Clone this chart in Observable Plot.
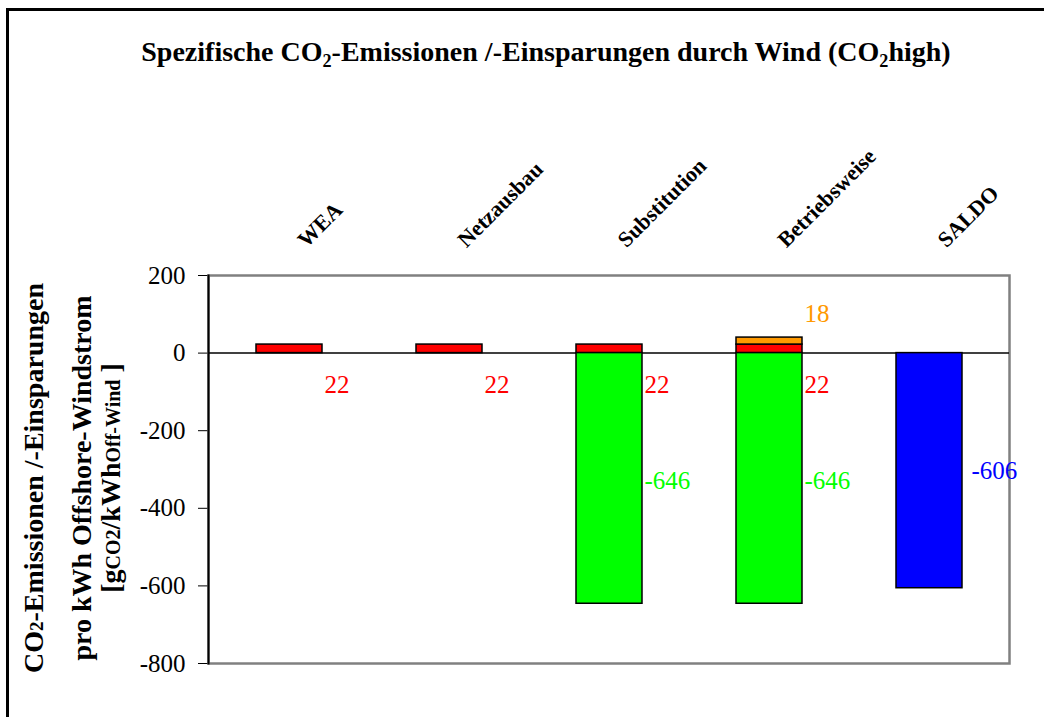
<!DOCTYPE html>
<html><head><meta charset="utf-8">
<script src="https://cdn.jsdelivr.net/npm/d3@7"></script>
<script src="https://cdn.jsdelivr.net/npm/@observablehq/plot@0.6"></script>
<style>
body{margin:0;background:#fff;overflow:hidden;}
#wrap{position:relative;width:1044px;height:717px;overflow:hidden;font-family:"Liberation Serif","Times New Roman",serif;background:#fff;}
#border{position:absolute;left:6px;top:8px;width:2000px;height:2000px;border-left:3px solid #000;border-top:3px solid #000;}
#title{position:absolute;top:36px;left:24px;width:1044px;text-align:center;font-size:28px;font-weight:bold;color:#000;white-space:nowrap;}
#title sub{font-size:65%;vertical-align:-0.35em;line-height:0;}
#chart{position:absolute;top:100px;left:0;}
</style></head>
<body>
<div id="wrap">
<div id="border"></div>
<div id="title">Spezifische CO<sub>2</sub>-Emissionen /-Einsparungen durch Wind (CO<sub>2</sub>high)</div>
<div id="chart"></div>
</div>
<script>
const categories = ["WEA", "Netzausbau", "Substitution", "Betriebsweise", "SALDO"];
const herstellung = [22, 22, 22, 22, null];
const betrieb = [null, null, null, 18, null];
const substitution = [null, null, -646, -646, null];
const saldo = [null, null, null, null, -606];
const yTicks = [200, 0, -200, -400, -600, -800];
const seriesNames = ["Herstellung", "Betrieb", "Substitution", "Saldo"];
const seriesColors = ["#ff0000", "#ff9900", "#00ff00", "#0000ff"];

const seriesValues = [herstellung, betrieb, substitution, saldo];
const rows = [];
seriesValues.forEach((vals, si) => vals.forEach((v, i) => {
  if (v != null) rows.push({cat: categories[i], series: seriesNames[si], value: v});
}));
const bySeries = name => rows.filter(r => r.series === name);
const fmt = d => d < 0 ? "-" + Math.abs(d) : String(d);
const FF = "'Liberation Serif', 'Times New Roman', serif";

const plot = Plot.plot({
  width: 1044, height: 617,
  marginTop: 175, marginBottom: 54, marginLeft: 208, marginRight: 35,
  style: {fontFamily: FF, fontSize: "25px", color: "#000", background: "transparent"},
  x: {domain: categories, paddingInner: 0.59, paddingOuter: 0.295, axis: null},
  y: {domain: [-800, 200], ticks: yTicks, tickSize: 10, tickPadding: 13, tickFormat: fmt, label: null},
  color: {domain: seriesNames, range: seriesColors},
  marks: [
    Plot.frame({stroke: "#808080", strokeWidth: 2.5}),
    Plot.frame({anchor: "left", stroke: "#000", strokeWidth: 2}),
    Plot.ruleY([0], {stroke: "#000", strokeWidth: 1.5}),
    Plot.barY(rows, {x: "cat", y: "value", fill: "series", stroke: "#000", strokeWidth: 1.5}),
    Plot.text(bySeries("Herstellung"), {x: "cat", y: () => 0, text: d => fmt(d.value), fill: "#ff0000", textAnchor: "start", dx: 35, dy: 32, fontSize: 25, fontFamily: FF}),
    Plot.text(bySeries("Betrieb"), {x: "cat", y: d => d.value + 22, text: d => fmt(d.value), fill: "#ff9900", textAnchor: "start", dx: 35, dy: -24, fontSize: 25, fontFamily: FF}),
    Plot.text(bySeries("Substitution"), {x: "cat", y: d => d.value / 2, text: d => fmt(d.value), fill: "#00ff00", textAnchor: "start", dx: 35, dy: 3, fontSize: 25, fontFamily: FF}),
    Plot.text(bySeries("Saldo"), {x: "cat", y: d => d.value / 2, text: d => fmt(d.value), fill: "#0000ff", textAnchor: "start", dx: 42, dy: 0, fontSize: 25, fontFamily: FF}),
    Plot.text(categories, {x: d => d, frameAnchor: "top", dx: 17, dy: -27, rotate: -45, textAnchor: "start", lineAnchor: "bottom", fontWeight: "bold", fontSize: 22, fontFamily: FF, letterSpacing: -0.5})
  ]
});
document.getElementById("chart").appendChild(plot);

// y-axis title
const svg = d3.select(plot);
const g = svg.append("g").attr("transform", "translate(0,378) rotate(-90)")
  .attr("font-family", FF).attr("font-weight", "bold").attr("fill", "#000").attr("text-anchor", "middle");
const l1 = g.append("text").attr("x", 0).attr("y", 43).attr("font-size", 28);
l1.append("tspan").text("CO");
l1.append("tspan").attr("font-size", 19).text("2");
l1.append("tspan").text("-Emissionen /-Einsparungen");
g.append("text").attr("x", 0).attr("y", 91).attr("font-size", 28).text("pro kWh Offshore-Windstrom");
const l3 = g.append("text").attr("x", 0).attr("y", 120).attr("font-size", 28);
l3.append("tspan").text("[g");
l3.append("tspan").attr("font-size", 20).text("CO2");
l3.append("tspan").text("/kWh");
l3.append("tspan").attr("font-size", 20).text("Off-Wind");
l3.append("tspan").text(" ]");
</script>
</body></html>
